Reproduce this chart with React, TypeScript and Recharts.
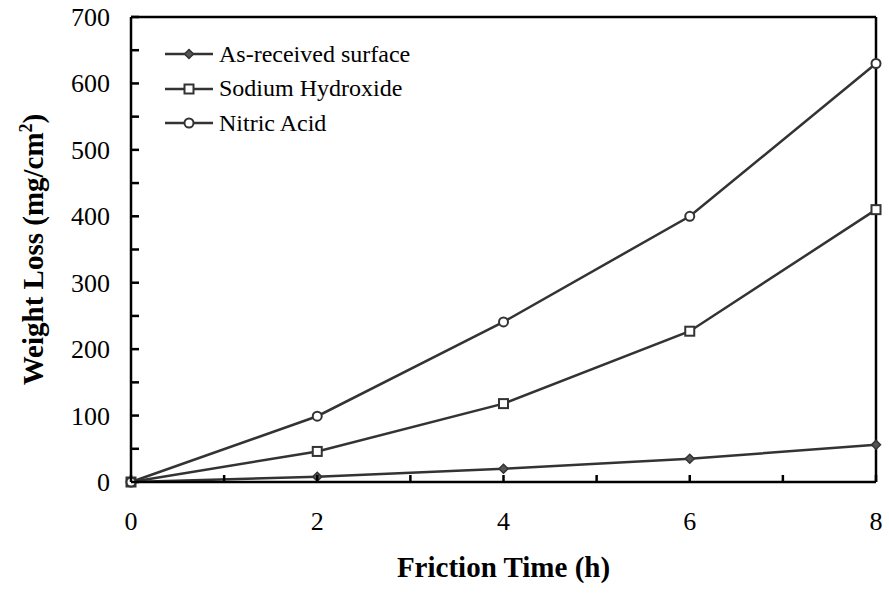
import React from 'react';
import { LineChart, Line, XAxis, YAxis, ReferenceLine, Label, Legend } from 'recharts';

const timeH = [0, 2, 4, 6, 8];
const asReceived = [0, 8, 20, 35, 56];
const sodiumHydroxide = [0, 46, 118, 227, 410];
const nitricAcid = [0, 99, 241, 400, 630];
const xTicks = [0, 1, 2, 3, 4, 5, 6, 7, 8];
const xLabelTicks = [0, 2, 4, 6, 8];
const yTicks = [0, 50, 100, 150, 200, 250, 300, 350, 400, 450, 500, 550, 600, 650, 700];
const yLabelTicks = [0, 100, 200, 300, 400, 500, 600, 700];

const seriesNames = ['As-received surface', 'Sodium Hydroxide', 'Nitric Acid'];

const data = timeH.map((t, i) => ({
  t,
  asReceived: asReceived[i],
  sodiumHydroxide: sodiumHydroxide[i],
  nitricAcid: nitricAcid[i],
}));

const FONT = '"Liberation Serif", "Times New Roman", serif';
const LINE_COLOR = '#333333';

type Shape = 'diamond' | 'square' | 'circle';

const Marker = ({ cx, cy, shape }: { cx: number; cy: number; shape: Shape }) => {
  if (cx == null || cy == null) return null;
  if (shape === 'diamond') {
    const r = 4.5;
    return (
      <polygon
        points={`${cx},${cy - r} ${cx + r},${cy} ${cx},${cy + r} ${cx - r},${cy}`}
        fill="#555"
        stroke={LINE_COLOR}
        strokeWidth={1.5}
      />
    );
  }
  if (shape === 'square') {
    return (
      <rect x={cx - 4.5} y={cy - 4.5} width={9} height={9} fill="#fff" stroke={LINE_COLOR} strokeWidth={2} />
    );
  }
  return <circle cx={cx} cy={cy} r={4.5} fill="#fff" stroke={LINE_COLOR} strokeWidth={2} />;
};

const makeDot = (shape: Shape) => (props: any) => (
  <Marker key={`${shape}-${props.index}`} cx={props.cx} cy={props.cy} shape={shape} />
);

const XTick = (props: any) => {
  const { x, y, payload } = props;
  const v = payload.value;
  return (
    <g>
      <line x1={x} y1={y} x2={x} y2={y - 7} stroke="#000" strokeWidth={2.5} />
      {xLabelTicks.includes(v) && (
        <text x={x} y={y + 48} textAnchor="middle" fontFamily={FONT} fontSize={26} fill="#000">
          {v}
        </text>
      )}
    </g>
  );
};

const YTick = (props: any) => {
  const { x, y, payload } = props;
  const v = payload.value;
  return (
    <g>
      <line x1={x} y1={y} x2={x + 8} y2={y} stroke="#000" strokeWidth={2.5} />
      {yLabelTicks.includes(v) && (
        <text x={x - 21} y={y + 9} textAnchor="end" fontFamily={FONT} fontSize={26} fill="#000">
          {v}
        </text>
      )}
    </g>
  );
};

const shapes: Shape[] = ['diamond', 'square', 'circle'];

const renderLegend = () => (
  <div style={{ fontFamily: FONT, fontSize: 24, color: '#000' }}>
    {seriesNames.map((name, i) => (
      <div key={name} style={{ display: 'flex', alignItems: 'center', height: 34.5, whiteSpace: 'nowrap' }}>
        <svg width={54} height={20} style={{ display: 'block' }}>
          <line x1={0} y1={10} x2={48} y2={10} stroke={LINE_COLOR} strokeWidth={2.5} />
          <Marker cx={24} cy={10} shape={shapes[i]} />
        </svg>
        <span>{name}</span>
      </div>
    ))}
  </div>
);

export default function App() {
  return (
    <div style={{ position: 'absolute', left: 0, top: 0, width: 889, height: 595, background: '#fff' }}>
      <LineChart
        width={889}
        height={595}
        data={data}
        margin={{ top: 17, right: 13, bottom: 53, left: 71 }}
      >
        <XAxis
          dataKey="t"
          type="number"
          domain={[0, 8]}
          ticks={xTicks}
          interval={0}
          tickSize={0}
          tickMargin={0}
          height={60}
          tickLine={false}
          axisLine={{ stroke: '#000', strokeWidth: 2.5 }}
          tick={XTick}
        >
          <Label
            content={() => (
              <text x={503.5} y={577} textAnchor="middle" fontFamily={FONT} fontSize={29} fontWeight="bold" fill="#000">
                Friction Time (h)
              </text>
            )}
          />
        </XAxis>
        <YAxis
          type="number"
          domain={[0, 700]}
          ticks={yTicks}
          interval={0}
          tickSize={0}
          tickMargin={0}
          width={60}
          tickLine={false}
          axisLine={{ stroke: '#000', strokeWidth: 2.5 }}
          tick={YTick}
        >
          <Label
            content={() => (
              <text
                x={43}
                y={249.5}
                transform="rotate(-90 43 249.5)"
                textAnchor="middle"
                fontFamily={FONT}
                fontSize={29}
                fontWeight="bold"
                fill="#000"
              >
                Weight Loss (mg/cm
                <tspan dy={-11} fontSize={18}>2</tspan>
                <tspan dy={11}>)</tspan>
              </text>
            )}
          />
        </YAxis>
        <ReferenceLine y={700} stroke="#000" strokeWidth={2.5} />
        <ReferenceLine x={8} stroke="#000" strokeWidth={2.5} />
        <Legend
          layout="vertical"
          align="center"
          verticalAlign="middle"
          content={renderLegend}
          wrapperStyle={{ position: 'absolute', left: 165, top: 37, width: 300, height: 110 }}
        />
        <Line
          dataKey="asReceived"
          name={seriesNames[0]}
          stroke={LINE_COLOR}
          strokeWidth={2.5}
          dot={makeDot('diamond')}
          activeDot={false}
          isAnimationActive={false}
        />
        <Line
          dataKey="sodiumHydroxide"
          name={seriesNames[1]}
          stroke={LINE_COLOR}
          strokeWidth={2.5}
          dot={makeDot('square')}
          activeDot={false}
          isAnimationActive={false}
        />
        <Line
          dataKey="nitricAcid"
          name={seriesNames[2]}
          stroke={LINE_COLOR}
          strokeWidth={2.5}
          dot={makeDot('circle')}
          activeDot={false}
          isAnimationActive={false}
        />
      </LineChart>
    </div>
  );
}
